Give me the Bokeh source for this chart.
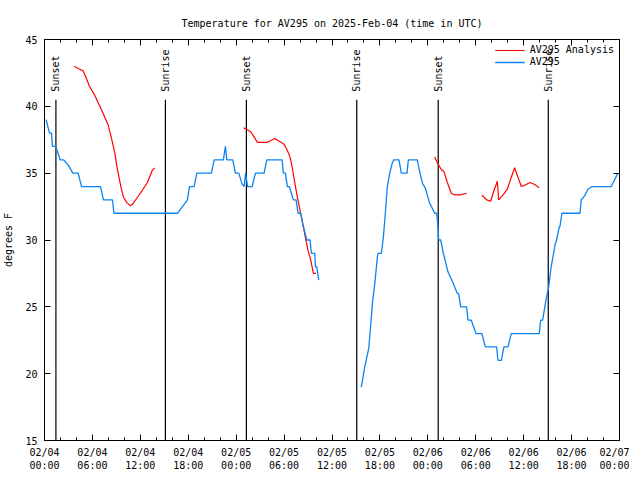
import math
from bokeh.plotting import figure
from bokeh.models import Range1d, FixedTicker, LinearAxis, Legend, LegendItem
from bokeh.core.properties import value
from bokeh.embed import file_html
from bokeh.resources import INLINE

# ---- data (hours since 2025-02-04 00:00 UTC) ----
obs_hours = [0.21, 0.375, 0.63, 0.88, 1.0, 1.38, 1.63, 1.96, 2.38, 2.97, 3.55, 4.22, 4.63, 7.01,
             7.38, 8.51, 8.69, 16.65, 17.9, 18.15, 18.74, 19.07, 20.9, 21.24, 22.4, 22.65, 22.83,
             23.58, 23.9, 24.33, 24.74, 24.99, 25.18, 25.43, 26.0, 26.41, 27.5, 27.83, 29.75,
             29.91, 30.16, 30.41, 30.66, 31.16, 31.5, 31.75, 32.09, 32.34, 32.84, 33.25, 33.42,
             33.84, 33.92, 34.09, 34.34,
             float("nan"),
             39.67, 40.1, 40.6, 40.76, 41.1, 41.35, 41.68, 41.76, 42.18, 42.43, 42.68, 42.93,
             43.23, 43.52, 43.73, 44.39, 44.68, 45.39, 45.56, 46.68, 47.02, 47.36, 47.68, 48.2,
             48.86, 49.11, 49.27, 49.36, 49.61, 49.94, 50.53, 51.15, 51.69, 51.86, 52.11, 52.86,
             53.03, 53.44, 54.03, 54.78, 55.19, 56.62, 56.78, 57.2, 57.53, 58.03, 58.45, 61.95,
             62.13, 62.38, 62.79, 63.13, 63.45, 63.95, 64.13, 64.46, 64.54, 64.79, 67.05, 67.21,
             67.63, 68.05, 68.55, 70.96, 71.8]
obs_temps = [39.0, 38.6, 38.0, 38.0, 37.0, 37.0, 36.6, 36.0, 36.0, 35.6, 35.0, 35.0, 34.0, 34.0,
             33.0, 33.0, 32.0, 32.0, 33.0, 34.0, 34.0, 35.0, 35.0, 36.0, 36.0, 37.0, 36.0,
             36.0, 35.0, 35.0, 34.2, 34.0, 35.0, 34.0, 34.0, 35.0, 35.0, 36.0, 36.0,
             35.0, 35.0, 34.0, 34.0, 33.0, 33.0, 32.0, 32.0, 31.2, 30.0, 30.0, 29.0,
             29.0, 28.0, 28.0, 27.0,
             float("nan"),
             19.0, 20.5, 21.9, 23.0, 25.5, 26.7, 28.7, 29.0, 29.0, 30.2, 32.0, 34.0,
             35.0, 35.7, 36.0, 36.0, 35.0, 35.0, 36.0, 36.0, 35.0, 34.2, 33.9, 32.8,
             32.0, 32.0, 31.0, 30.0, 30.0, 29.0, 27.6, 26.8, 26.0, 26.0, 25.0, 25.0,
             24.0, 24.0, 23.0, 23.0, 22.0, 22.0, 21.0, 21.0, 22.0, 22.0, 23.0, 23.0,
             24.0, 24.0, 25.5, 26.5, 28.0, 29.7, 30.0, 31.0, 31.0, 32.0, 32.0, 33.0,
             33.3, 33.8, 34.0, 34.0, 35.0]

ana_hours = [3.72, 4.22, 4.84, 5.13, 5.63, 6.31, 6.93, 7.47, 7.97, 8.39, 8.81, 9.06, 9.56, 9.89,
             10.31, 10.73, 11.06, 11.64, 12.23, 12.89, 13.48, 13.82,
             float("nan"),
             24.91, 25.33, 25.83, 26.25, 26.66, 27.83, 28.41, 28.84, 29.34, 30.0, 30.41, 30.75,
             31.0, 31.34, 31.66, 32.0, 32.34, 32.67, 33.0, 33.34, 33.67, 34.0,
             float("nan"),
             48.86, 49.36, 49.69, 50.03, 50.44, 50.94, 51.36, 52.03, 52.87,
             float("nan"),
             54.78, 55.37, 55.87, 56.28, 56.7, 56.87, 57.45, 57.95, 58.45, 58.87, 59.29, 59.7,
             60.13, 60.79, 61.38, 61.95]
ana_temps = [43.0, 42.83, 42.65, 42.25, 41.5, 40.8, 40.0, 39.3, 38.6, 37.6, 36.5, 35.5, 34.0, 33.2,
             32.8, 32.57, 32.7, 33.2, 33.7, 34.3, 35.2, 35.4,
             float("nan"),
             38.4, 38.26, 38.1, 37.7, 37.3, 37.3, 37.46, 37.6, 37.4, 37.16, 36.7, 36.2,
             35.5, 34.3, 33.2, 32.2, 31.2, 30.2, 29.2, 28.5, 27.5, 27.5,
             float("nan"),
             36.2, 35.6, 35.27, 35.1, 34.3, 33.5, 33.37, 33.37, 33.5,
             float("nan"),
             33.35, 33.0, 32.9, 33.7, 34.4, 33.0, 33.4, 33.8, 34.7, 35.4, 34.7, 34.0,
             34.1, 34.3, 34.15, 33.9]

sun_hours = [1.43, 15.14, 25.28, 39.1, 49.3, 63.08]
sun_labels = ["Sunset", "Sunrise", "Sunset", "Sunrise", "Sunset", "Sunrise"]

x_major = [0, 6, 12, 18, 24, 30, 36, 42, 48, 54, 60, 66, 72]
x_tick_labels = ["02/04\n00:00", "02/04\n06:00", "02/04\n12:00", "02/04\n18:00",
                 "02/05\n00:00", "02/05\n06:00", "02/05\n12:00", "02/05\n18:00",
                 "02/06\n00:00", "02/06\n06:00", "02/06\n12:00", "02/06\n18:00",
                 "02/07\n00:00"]
x_minor = list(range(0, 73, 2))
y_major = [15, 20, 25, 30, 35, 40, 45]

FONT = "DejaVu Sans Mono"
FS = "10px"
RED = "#ff0000"
BLUE = "#0a84f5"

p = figure(frame_width=575, frame_height=401, output_backend="svg", toolbar_location=None,
           x_range=Range1d(0, 72), y_range=Range1d(15, 45),
           min_border_left=38, min_border_right=10, min_border_top=39, min_border_bottom=32,
           x_axis_location=None, y_axis_location=None)
p.title.text = "Temperature for AV295 on 2025-Feb-04 (time in UTC)"
p.title.align = "center"
p.title.text_font = FONT
p.title.text_font_size = FS
p.title.text_font_style = "normal"
p.title.text_color = "black"
p.title.standoff = 21
p.outline_line_color = "black"
p.outline_line_width = 1
p.xgrid.visible = False
p.ygrid.visible = False
p.background_fill_color = "white"
p.border_fill_color = "white"

def style_axis(ax):
    ax.axis_line_color = "black"
    ax.major_tick_in = 6
    ax.major_tick_out = 0
    ax.minor_tick_in = 3
    ax.minor_tick_out = 0
    ax.major_tick_line_color = "black"
    ax.minor_tick_line_color = "black"
    ax.major_label_text_font = FONT
    ax.major_label_text_font_size = FS
    ax.major_label_text_color = "black"

xb = LinearAxis(ticker=FixedTicker(ticks=x_major, minor_ticks=x_minor),
                major_label_overrides={t: l for t, l in zip(x_major, x_tick_labels)})
style_axis(xb)
xb.major_label_standoff = 6
p.add_layout(xb, "below")

xt = LinearAxis(ticker=FixedTicker(ticks=x_major, minor_ticks=x_minor),
                major_label_overrides={t: "" for t in x_major})
style_axis(xt)
xt.major_label_text_font_size = "1px"
xt.major_label_standoff = 0
p.add_layout(xt, "above")

yl = LinearAxis(ticker=FixedTicker(ticks=y_major, minor_ticks=[]), axis_label="degrees F")
style_axis(yl)
yl.major_label_standoff = 7
yl.axis_label_text_font = FONT
yl.axis_label_text_font_size = FS
yl.axis_label_text_font_style = "normal"
yl.axis_label_text_color = "black"
yl.axis_label_standoff = 8
p.add_layout(yl, "left")

yr = LinearAxis(ticker=FixedTicker(ticks=y_major, minor_ticks=[]),
                major_label_overrides={t: "" for t in y_major})
style_axis(yr)
yr.major_label_text_font_size = "1px"
yr.major_label_standoff = 0
p.add_layout(yr, "right")

# sunrise / sunset markers
sun_line_top = 40.5
p.segment(x0=sun_hours, y0=[15] * len(sun_hours), x1=sun_hours, y1=[sun_line_top] * len(sun_hours),
          line_color="black", line_width=1.2)
p.text(x=sun_hours, y=[41.1] * len(sun_hours), text=sun_labels, angle=math.pi / 2,
       text_align="left", text_baseline="middle", text_font=value(FONT),
       text_font_size=FS, text_color="black")

r_ana = p.line(ana_hours, ana_temps, line_color=RED, line_width=1.2)
r_obs = p.line(obs_hours, obs_temps, line_color=BLUE, line_width=1.3)

legend = Legend(items=[LegendItem(label="AV295 Analysis", renderers=[r_ana]),
                       LegendItem(label="AV295", renderers=[r_obs])],
                location="top_right")
legend.background_fill_alpha = 0
legend.border_line_alpha = 0
legend.label_text_font = FONT
legend.label_text_font_size = FS
legend.label_text_color = "black"
legend.glyph_width = 30
legend.glyph_height = 10
legend.label_height = 10
legend.spacing = 1
legend.padding = 2
legend.margin = 3
p.add_layout(legend, "center")

open("out.html", "w").write(file_html(p, INLINE))
